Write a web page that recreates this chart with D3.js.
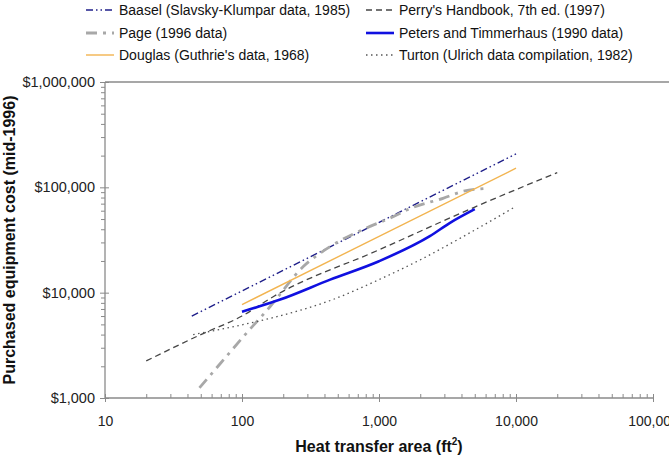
<!DOCTYPE html>
<html>
<head>
<meta charset="utf-8">
<script src="https://cdn.jsdelivr.net/npm/d3@7"></script>
<style>
  body { margin: 0; background: #fff; }
  svg { display: block; font-family: Arial, "Liberation Sans", sans-serif; }
</style>
</head>
<body>
<div id="chart"></div>
<script>
// heat transfer area (ft2) vs purchased cost ($, mid-1996)
const baaselArea = [43, 10000];
const baaselCost = [6000, 208000];

const perryArea = [20, 50, 100, 170, 1000, 5000, 20000];
const perryCost = [2250, 4000, 6000, 9200, 25500, 65000, 138000];

const pageArea = [49, 70, 102, 160, 280, 440, 765, 1200, 1770, 2930, 4100, 6140];
const pageCost = [1250, 2150, 3800, 7350, 17700, 27400, 39800, 51000, 64500, 78600, 91600, 97800];

const petersArea = [100, 190, 440, 1000, 2350, 3300, 5000];
const petersCost = [6600, 8600, 13300, 19900, 34400, 46000, 62000];

const douglasArea = [100, 10000];
const douglasCost = [7700, 152000];

const turtonArea = [44, 100, 160, 460, 1000, 2000, 4100, 9600];
const turtonCost = [4000, 4950, 5700, 8600, 13300, 20500, 34000, 64000];

const xTicks = [10, 100, 1000, 10000, 100000];
const yTicks = [1000, 10000, 100000, 1000000];

const series = [
  {name: "Baasel (Slavsky-Klumpar data, 1985)", x: baaselArea, y: baaselCost,
   color: "#1f1f8a", width: 1.4, dash: "7,3,1.5,3,1.5,3"},
  {name: "Perry's Handbook, 7th ed. (1997)", x: perryArea, y: perryCost,
   color: "#454545", width: 1.3, dash: "6,4"},
  {name: "Page (1996 data)", x: pageArea, y: pageCost,
   color: "#a8a8a8", width: 2.8, dash: "11,6,3,6"},
  {name: "Peters and Timmerhaus (1990 data)", x: petersArea, y: petersCost,
   color: "#1010e0", width: 2.6, dash: null},
  {name: "Douglas (Guthrie's data, 1968)", x: douglasArea, y: douglasCost,
   color: "#f2b450", width: 1.4, dash: null},
  {name: "Turton (Ulrich data compilation, 1982)", x: turtonArea, y: turtonCost,
   color: "#555555", width: 1.3, dash: "1.5,3.5"}
];

const width = 669, height = 460;
const svg = d3.select("#chart").append("svg")
  .attr("width", width).attr("height", height);

const x = d3.scaleLog().domain([10, 100000]).range([105, 653]);
const y = d3.scaleLog().domain([1000, 1000000]).range([398, 82]);

const axisColor = "#8a8a8a";

// minor ticks
const minorX = [];
for (let d = 10; d < 100000; d *= 10)
  for (let k = 2; k < 10; k++) minorX.push(d * k);
const minorY = [];
for (let d = 1000; d < 1000000; d *= 10)
  for (let k = 2; k < 10; k++) minorY.push(d * k);

// top border line
svg.append("line")
  .attr("x1", x.range()[0]).attr("x2", width)
  .attr("y1", y.range()[1]).attr("y2", y.range()[1])
  .attr("stroke", axisColor).attr("stroke-width", 1.3);

const gx = svg.append("g").attr("transform", `translate(0,${y.range()[0]})`);
gx.append("g").call(d3.axisBottom(x).tickValues(minorX).tickSize(-4).tickFormat(""));
gx.append("g").call(d3.axisBottom(x).tickValues(xTicks).tickSize(4).tickPadding(14)
  .tickFormat(d3.format(",")));
gx.selectAll("g > g").select(".domain").remove();
gx.append("line").attr("x1", x.range()[0]).attr("x2", x.range()[1])
  .attr("stroke", axisColor).attr("stroke-width", 1.3);
gx.selectAll(".tick line").attr("stroke", axisColor);
gx.selectAll(".tick").filter(d => xTicks.includes(d)).append("line")
  .attr("y2", -4).attr("stroke", axisColor);
gx.selectAll("text").attr("font-size", 14).attr("fill", "#222")
  .attr("font-family", "Arial, 'Liberation Sans', sans-serif");

const gy = svg.append("g").attr("transform", `translate(${x.range()[0]},0)`);
gy.append("g").call(d3.axisLeft(y).tickValues(minorY).tickSize(4).tickFormat(""));
gy.append("g").call(d3.axisLeft(y).tickValues(yTicks).tickSize(5).tickPadding(5)
  .tickFormat(d => "$" + d3.format(",")(d)));
gy.selectAll("g > g").select(".domain").remove();
gy.append("line").attr("y1", y.range()[0]).attr("y2", y.range()[1])
  .attr("stroke", axisColor).attr("stroke-width", 1.3);
gy.selectAll(".tick line").attr("stroke", axisColor);
gy.selectAll(".tick").filter(d => yTicks.includes(d)).append("line")
  .attr("x2", 4).attr("stroke", axisColor);
gy.selectAll("text").attr("font-size", 14.5).attr("fill", "#222")
  .attr("font-family", "Arial, 'Liberation Sans', sans-serif");

// series lines
const line = d3.line()
  .x(d => x(d[0])).y(d => y(d[1]))
  .curve(d3.curveMonotoneX);

const plot = svg.append("g");
series.forEach(s => {
  const pts = s.x.map((v, i) => [v, s.y[i]]);
  plot.append("path")
    .datum(pts)
    .attr("d", line)
    .attr("fill", "none")
    .attr("stroke", s.color)
    .attr("stroke-width", s.width)
    .attr("stroke-dasharray", s.dash)
    .attr("stroke-linejoin", "round");
});

// legend (two columns, three rows)
const legendCols = [86, 366];
const legendRows = [10, 33, 55];
const legend = svg.append("g");
series.forEach((s, i) => {
  const cx = legendCols[i % 2];
  const cy = legendRows[Math.floor(i / 2)];
  legend.append("line")
    .attr("x1", cx).attr("x2", cx + 28)
    .attr("y1", cy).attr("y2", cy)
    .attr("stroke", s.color)
    .attr("stroke-width", s.width)
    .attr("stroke-dasharray", s.dash);
  legend.append("text")
    .attr("x", cx + 33).attr("y", cy)
    .attr("dy", "0.35em")
    .attr("font-size", 14)
    .attr("fill", "#111")
    .text(s.name);
});

// axis titles
const xTitle = svg.append("text")
  .attr("x", (x.range()[0] + x.range()[1]) / 2)
  .attr("y", 452)
  .attr("text-anchor", "middle")
  .attr("font-size", 16).attr("font-weight", "bold").attr("fill", "#111");
xTitle.append("tspan").text("Heat transfer area (ft");
xTitle.append("tspan").attr("font-size", 10).attr("dy", -7).text("2");
xTitle.append("tspan").attr("dy", 7).text(")");

svg.append("text")
  .attr("transform", `translate(15,${(y.range()[0] + y.range()[1]) / 2}) rotate(-90)`)
  .attr("text-anchor", "middle")
  .attr("font-size", 16).attr("font-weight", "bold").attr("fill", "#111")
  .text("Purchased equipment cost (mid-1996)");
</script>
</body>
</html>
